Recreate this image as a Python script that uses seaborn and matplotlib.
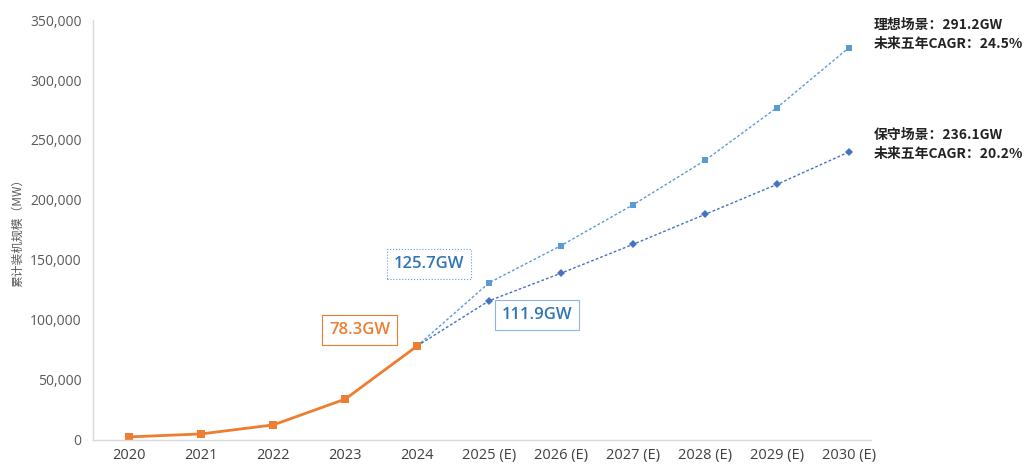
import numpy as np
import pandas as pd
import matplotlib
matplotlib.use("Agg")
import matplotlib.pyplot as plt
import seaborn as sns

# ===============================
# DATA
# ===============================
YEARS = ["2020", "2021", "2022", "2023", "2024",
         "2025 (E)", "2026 (E)", "2027 (E)", "2028 (E)", "2029 (E)", "2030 (E)"]
HIST = [2500, 5000, 12500, 34000, 78300]
IDEAL = [78300, 131000, 162000, 196000, 233000, 277000, 327000]
CONSERV = [78300, 116000, 139000, 163000, 188000, 213000, 240000]

ORANGE = "#ED7D31"
BLUE_L = "#5B9BD5"
BLUE_D = "#4472C4"
TXT_BLUE = "#2E75B6"

sns.set_style("white")
plt.rcParams["font.family"] = ["Open Sans", "Noto Sans CJK SC", "DejaVu Sans"]

df_hist = pd.DataFrame({"x": np.arange(len(HIST)), "y": HIST})
df_ideal = pd.DataFrame({"x": np.arange(4, 4 + len(IDEAL)), "y": IDEAL})
df_cons = pd.DataFrame({"x": np.arange(4, 4 + len(CONSERV)), "y": CONSERV})

fig = plt.figure(figsize=(10.29, 4.66), dpi=100)
ax = fig.add_axes([0.090, 0.056, 0.756, 0.901])

sns.lineplot(data=df_ideal, x="x", y="y", ax=ax, color=BLUE_L, lw=1,
             linestyle=(0, (2, 1.5)), marker="s", markersize=5, markeredgewidth=0)
sns.lineplot(data=df_cons, x="x", y="y", ax=ax, color=BLUE_D, lw=1,
             linestyle=(0, (2, 1.5)), marker="D", markersize=4.5, markeredgewidth=0)
sns.lineplot(data=df_hist, x="x", y="y", ax=ax, color=ORANGE, lw=2,
             marker="s", markersize=5.5, markeredgewidth=0)

ax.set_xlim(-0.51, 10.3)
ax.set_ylim(0, 350000)
ax.set_xticks(range(len(YEARS)))
ax.set_xticklabels(YEARS, fontsize=10.5, color="#404040")
ax.set_yticks(np.arange(0, 350001, 50000))
ax.set_yticklabels([f"{v:,}" for v in range(0, 350001, 50000)], fontsize=10, color="#595959")
ax.tick_params(axis="x", length=0, pad=6)
ax.tick_params(axis="y", length=0, pad=8)
ax.set_xlabel("")
ax.set_ylabel("累计装机规模（MW）", fontsize=8.5, color="#595959",
              family=["Noto Sans CJK SC"], labelpad=4)

for s in ["top", "right"]:
    ax.spines[s].set_visible(False)
for s in ["left", "bottom"]:
    ax.spines[s].set_color("#D9D9D9")
    ax.spines[s].set_linewidth(1)

# ===============================
# ANNOTATION
# ===============================
ax.text(4.17, 146700, "125.7GW", ha="center", va="center", fontsize=12,
        fontweight="semibold", color=TXT_BLUE,
        bbox=dict(boxstyle="square,pad=0.4", fc="white", ec=BLUE_L, lw=0.8, ls=":"))
ax.text(5.67, 104000, "111.9GW", ha="center", va="center", fontsize=12,
        fontweight="semibold", color=TXT_BLUE,
        bbox=dict(boxstyle="square,pad=0.4", fc="white", ec="#8EB4E3", lw=0.8))
ax.text(3.2, 91700, "78.3GW", ha="center", va="center", fontsize=12,
        fontweight="semibold", color=ORANGE,
        bbox=dict(boxstyle="square,pad=0.4", fc="white", ec=ORANGE, lw=0.8))

cjk = ["Noto Sans CJK SC", "DejaVu Sans"]
ax.text(10.35, 346000, "理想场景：291.2GW", ha="left", va="center", fontsize=10,
        fontweight="bold", color="#222222", family=cjk, clip_on=False)
ax.text(10.35, 330000, "未来五年CAGR：24.5%", ha="left", va="center", fontsize=10,
        fontweight="bold", color="#222222", family=cjk, clip_on=False)
ax.text(10.35, 254000, "保守场景：236.1GW", ha="left", va="center", fontsize=10,
        fontweight="bold", color="#222222", family=cjk, clip_on=False)
ax.text(10.35, 238000, "未来五年CAGR：20.2%", ha="left", va="center", fontsize=10,
        fontweight="bold", color="#222222", family=cjk, clip_on=False)

plt.savefig("out.png", dpi=100)
plt.close()
